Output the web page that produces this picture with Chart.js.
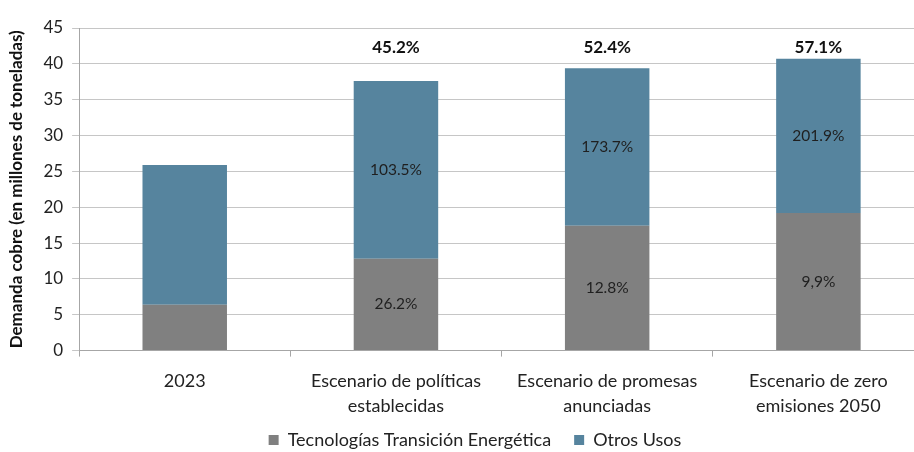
<!DOCTYPE html>
<html>
<head>
<meta charset="utf-8">
<script src="https://cdn.jsdelivr.net/npm/chart.js@4.4.1/dist/chart.umd.min.js"></script>
<style>
  html, body { margin: 0; padding: 0; background: #fff; overflow: hidden; }
  #wrap { width: 952px; height: 452px; }
</style>
</head>
<body>
<div id="wrap"><canvas id="myChart"></canvas></div>
<script>
const categories = [
  ["2023"],
  ["Escenario de políticas", "establecidas"],
  ["Escenario de promesas", "anunciadas"],
  ["Escenario de zero", "emisiones 2050"],
];
const seriesNames = ["Tecnologías Transición Energética", "Otros Usos"];
const tecnologias = [6.4, 12.8, 17.4, 19.2];
const otrosUsos = [19.5, 24.8, 22.0, 21.5];
const tecnologiasLabels = ["", "26.2%", "12.8%", "9,9%"];
const otrosLabels = ["", "103.5%", "173.7%", "201.9%"];
const totalLabels = ["", "45.2%", "52.4%", "57.1%"];
const totalLabelLevel = 42.3; // altura (en unidades del eje) de las etiquetas en negrita

const FONT = "Lato, 'Open Sans', sans-serif";

// Etiquetas dentro de las barras y encima
const labelPlugin = {
  id: "barLabels",
  afterLayout(chart) {
    // la leyenda del original está centrada en todo el lienzo, no en el área sin margen
    if (chart.legend) {
      chart.legend.left += 12;
      chart.legend.right += 12;
    }
  },
  afterDatasetsDraw(chart) {
    const { ctx } = chart;
    const yScale = chart.scales.y;
    ctx.save();
    ctx.textAlign = "center";
    ctx.textBaseline = "middle";
    ctx.fillStyle = "#1f1f1f";
    ctx.font = "15.5px " + FONT;
    [tecnologiasLabels, otrosLabels].forEach((labels, di) => {
      const meta = chart.getDatasetMeta(di);
      meta.data.forEach((bar, i) => {
        if (!labels[i]) return;
        const mid = (bar.y + bar.base) / 2;
        ctx.fillText(labels[i], bar.x, mid);
      });
    });
    ctx.font = "bold 17px " + FONT;
    ctx.fillStyle = "#111";
    const meta = chart.getDatasetMeta(1);
    meta.data.forEach((bar, i) => {
      if (!totalLabels[i]) return;
      ctx.fillText(totalLabels[i], bar.x, yScale.getPixelForValue(totalLabelLevel));
    });
    ctx.restore();
  },
};

const ctx = document.getElementById("myChart").getContext("2d");
new Chart(ctx, {
  type: "bar",
  data: {
    labels: categories,
    datasets: [
      {
        label: seriesNames[0],
        data: tecnologias,
        backgroundColor: "#808080",
        barPercentage: 0.4,
        categoryPercentage: 1,
      },
      {
        label: seriesNames[1],
        data: otrosUsos,
        backgroundColor: "#56849E",
        barPercentage: 0.4,
        categoryPercentage: 1,
      },
    ],
  },
  options: {
    responsive: true,
    maintainAspectRatio: false,
    animation: false,
    layout: { padding: { top: 28, right: 28, left: 2, bottom: -7 } },
    plugins: {
      legend: {
        position: "bottom",
        labels: {
          boxWidth: 10,
          boxHeight: 10,
          padding: 0,
          color: "#222",
          font: { family: FONT, size: 18, lineHeight: 1.1 },
          generateLabels(chart) {
            const items = Chart.defaults.plugins.legend.labels.generateLabels(chart);
            items[0].text = items[0].text + "     ";
            return items;
          },
        },
      },
      tooltip: { enabled: false },
    },
    scales: {
      x: {
        stacked: true,
        grid: {
          offset: true,
          drawOnChartArea: false,
          color: "#a6a6a6",
          tickLength: 6,
        },
        border: { color: "#a6a6a6" },
        ticks: {
          color: "#222",
          font: { family: FONT, size: 18, lineHeight: 1.4 },
          maxRotation: 0,
          padding: 12,
        },
      },
      y: {
        stacked: true,
        min: 0,
        max: 45,
        grid: { color: "#c6c6c6", tickLength: 7 },
        border: { color: "#a6a6a6" },
        ticks: {
          stepSize: 5,
          color: "#222",
          font: { family: FONT, size: 17 },
          padding: 9,
        },
        title: {
          display: true,
          text: "Demanda cobre (en millones de toneladas)",
          color: "#111",
          font: { family: FONT, size: 17, weight: "bold" },
          padding: { bottom: 8 },
        },
      },
    },
  },
  plugins: [labelPlugin],
});
</script>
</body>
</html>
